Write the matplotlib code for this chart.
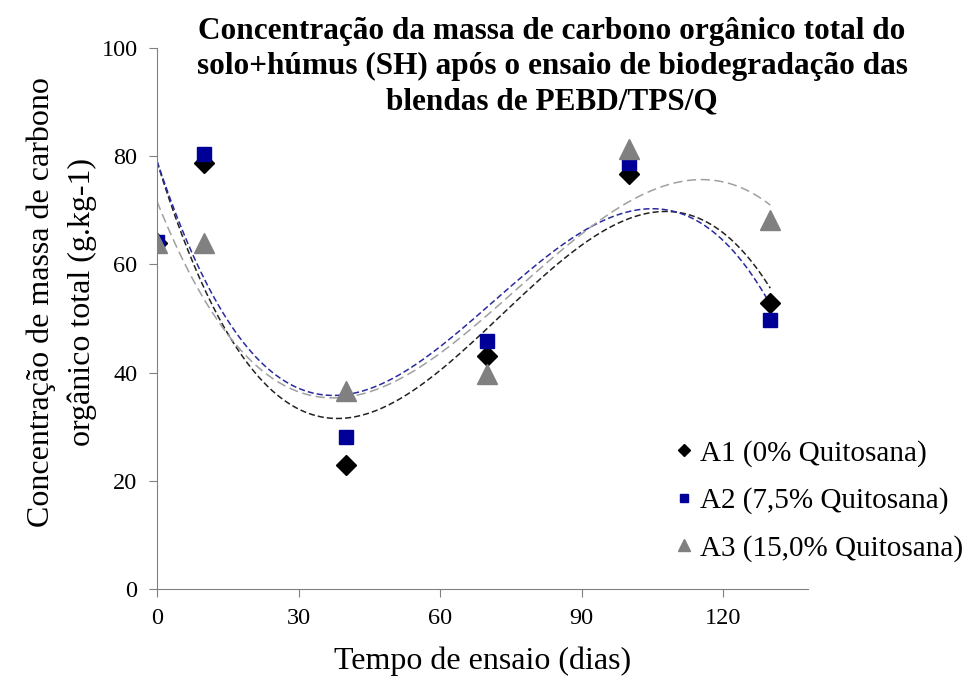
import numpy as np
import matplotlib
matplotlib.use("Agg")
import matplotlib.pyplot as plt

plt.rcParams['font.family'] = ['Liberation Serif', 'DejaVu Serif']

dias = [0, 10, 40, 70, 100, 130]
a1 = [64.0, 78.8, 23.0, 43.0, 76.7, 52.9]
a2 = [64.1, 80.4, 28.1, 45.8, 78.8, 49.7]
a3 = [64.0, 64.0, 36.6, 39.7, 81.3, 68.2]
labels = ['A1 (0% Quitosana)', 'A2 (7,5% Quitosana)', 'A3 (15,0% Quitosana)']
xticks = [0, 30, 60, 90, 120]
yticks = [0, 20, 40, 60, 80, 100]

W, H = 968, 684
fig = plt.figure(figsize=(W/100, H/100), dpi=100)
ax = fig.add_axes([157/W, 1-589/H, (808-157)/W, (589-48)/H])

styles = [
    dict(marker='D', color='black', ms=10.5, ls=(0, (4, 2)), lc='#222222'),
    dict(marker='s', color='#000099', ms=10, ls=(0, (4, 2)), lc='#2a2aa0'),
    dict(marker='^', color='#808080', ms=14, ls=(0, (6, 3)), lc='#a0a0a0'),
]
xs = np.linspace(0, 130, 300)
for y, lab, st in zip([a1, a2, a3], labels, styles):
    c = np.polyfit(dias, y, 3)
    ax.plot(xs, np.polyval(c, xs), ls=st['ls'], color=st['lc'], lw=1.1, zorder=2)
for y, lab, st in zip([a1, a2, a3], labels, styles):
    ax.plot(dias, y, ls='none', marker=st['marker'], color=st['color'],
            ms=st['ms'], label=lab, zorder=3)

ax.set_xlim(0, 138)
ax.set_ylim(0, 100)
ax.set_xticks(xticks)
ax.set_yticks(yticks)
ax.tick_params(labelsize=17.5, color='#808080', length=6, direction='out', pad=8)
for s in ['top', 'right']:
    ax.spines[s].set_visible(False)
for s in ['left', 'bottom']:
    ax.spines[s].set_color('#808080')
ax.set_xlabel('Tempo de ensaio (dias)', fontsize=23, labelpad=12)
ax.set_ylabel('Concentração de massa de carbono\norgânico total (g.kg-1)', fontsize=23,
              linespacing=1.5)
ax.yaxis.set_label_coords((97-157)/651, (589-302)/541)

ax.legend(loc='upper left', bbox_to_anchor=(672/W, 1-440/H), bbox_transform=fig.transFigure,
          frameon=False, fontsize=21, borderpad=0, borderaxespad=0,
          handletextpad=0.15, labelspacing=0.7, handlelength=0.8, markerscale=0.62)

fig.text(552/W, 1-17/H, 'Concentração da massa de carbono orgânico total do\nsolo+húmus (SH) após o ensaio de biodegradação das\nblendas de PEBD/TPS/Q',
         ha='center', va='top', fontsize=22.5, fontweight='bold', linespacing=1.27)

fig.savefig('out.png', dpi=100)
